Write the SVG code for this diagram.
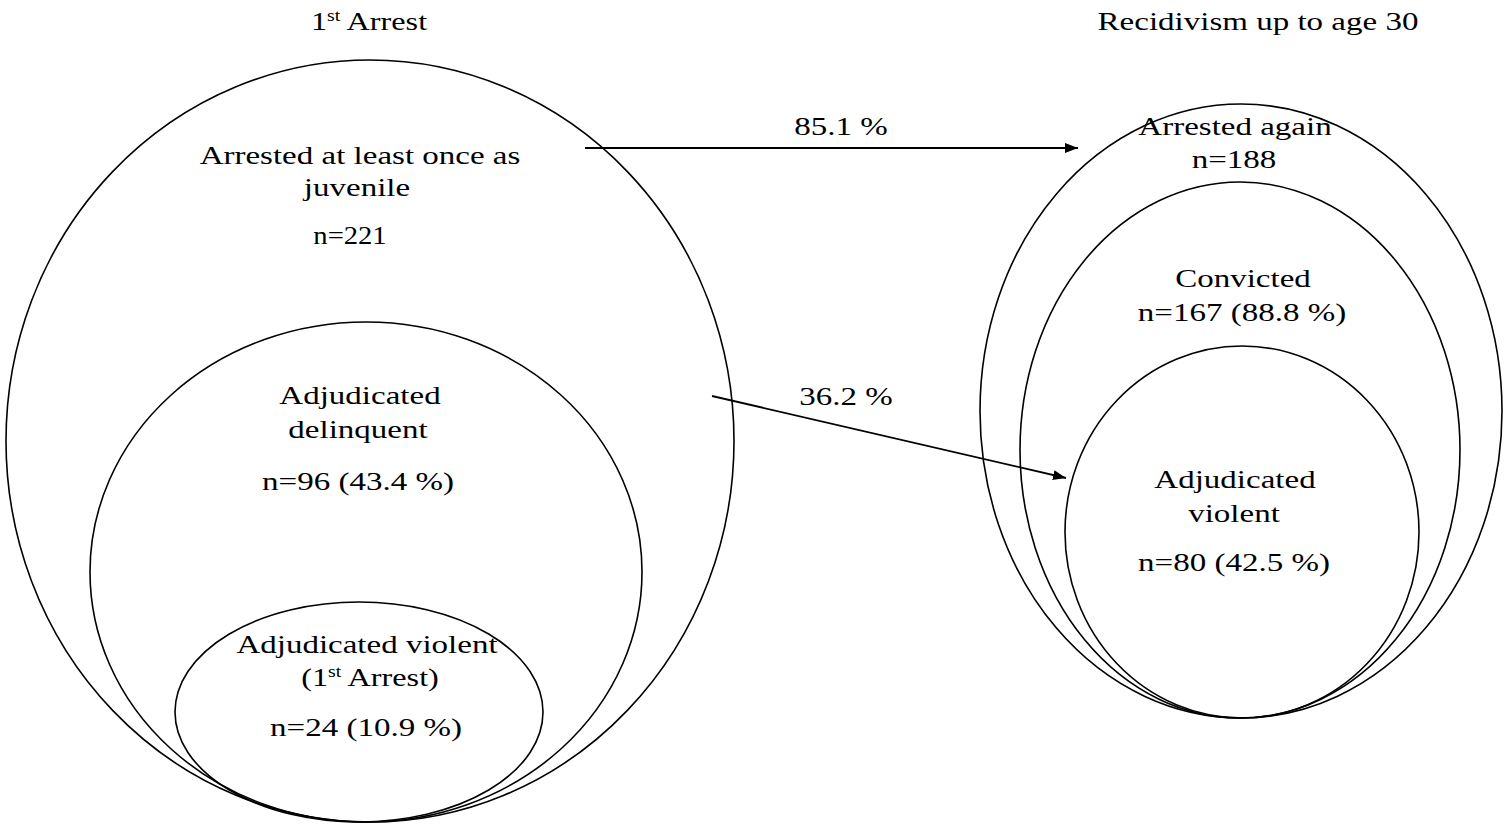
<svg xmlns="http://www.w3.org/2000/svg" width="1506" height="833" viewBox="0 0 1506 833">
<defs>
<style>
.e{fill:none;stroke:#000;stroke-width:1.6}
.t{font-family:"Liberation Serif","Times New Roman",serif;font-size:26px;fill:#000;text-anchor:middle}
.sup{font-size:16px}
.c{stroke:#000;stroke-width:1.8;fill:none}
</style>
<marker id="ah" viewBox="0 0 13 10" refX="13" refY="5" markerWidth="13" markerHeight="10" markerUnits="userSpaceOnUse" orient="auto">
<path d="M0,0 L13,5 L0,10 Z" fill="#000"/>
</marker>
</defs>
<rect width="1506" height="833" fill="#fff"/>
<g id="headers">
<text class="t" transform="translate(369,30) scale(1.24,1)">1<tspan class="sup" dy="-9">st</tspan><tspan dy="9"> Arrest</tspan></text>
<text class="t" transform="translate(1258,30) scale(1.27,1)">Recidivism up to age 30</text>
</g>
<g id="node-arrested-juvenile">
<ellipse class="e" cx="370" cy="441" rx="364" ry="381"/>
<text class="t" transform="translate(360,164) scale(1.27,1)">Arrested at least once as</text>
<text class="t" transform="translate(357,196) scale(1.27,1)">juvenile</text>
<text class="t" transform="translate(350,244) scale(1.1,1)">n=221</text>
</g>
<g id="node-adjudicated-delinquent">
<ellipse class="e" cx="366" cy="572" rx="276" ry="250"/>
<text class="t" transform="translate(360,404) scale(1.27,1)">Adjudicated</text>
<text class="t" transform="translate(358,438) scale(1.27,1)">delinquent</text>
<text class="t" transform="translate(358,490) scale(1.27,1)">n=96 (43.4 %)</text>
</g>
<g id="node-adjudicated-violent-first">
<ellipse class="e" cx="359" cy="712" rx="184" ry="110"/>
<text class="t" transform="translate(367,653) scale(1.27,1)">Adjudicated violent</text>
<text class="t" transform="translate(370,686) scale(1.24,1)">(1<tspan class="sup" dy="-9">st</tspan><tspan dy="9"> Arrest)</tspan></text>
<text class="t" transform="translate(366,736) scale(1.27,1)">n=24 (10.9 %)</text>
</g>
<g id="node-arrested-again">
<ellipse class="e" cx="1241" cy="411" rx="261" ry="307"/>
<text class="t" transform="translate(1235,135) scale(1.27,1)">Arrested again</text>
<text class="t" transform="translate(1234,168) scale(1.27,1)">n=188</text>
</g>
<g id="node-convicted">
<ellipse class="e" cx="1240" cy="450" rx="220" ry="268"/>
<text class="t" transform="translate(1243,287) scale(1.27,1)">Convicted</text>
<text class="t" transform="translate(1242,321) scale(1.27,1)">n=167 (88.8 %)</text>
</g>
<g id="node-adjudicated-violent-recid">
<ellipse class="e" cx="1242" cy="532" rx="177" ry="186"/>
<text class="t" transform="translate(1235,488) scale(1.27,1)">Adjudicated</text>
<text class="t" transform="translate(1234,522) scale(1.27,1)">violent</text>
<text class="t" transform="translate(1234,571) scale(1.27,1)">n=80 (42.5 %)</text>
</g>
<g id="connectors">
<line class="c" x1="585" y1="148" x2="1078" y2="148" marker-end="url(#ah)"/>
<text class="t" transform="translate(841,135) scale(1.27,1)">85.1 %</text>
<line class="c" x1="712" y1="396" x2="1066" y2="478" marker-end="url(#ah)"/>
<text class="t" transform="translate(846,405) scale(1.27,1)">36.2 %</text>
</g>
</svg>
